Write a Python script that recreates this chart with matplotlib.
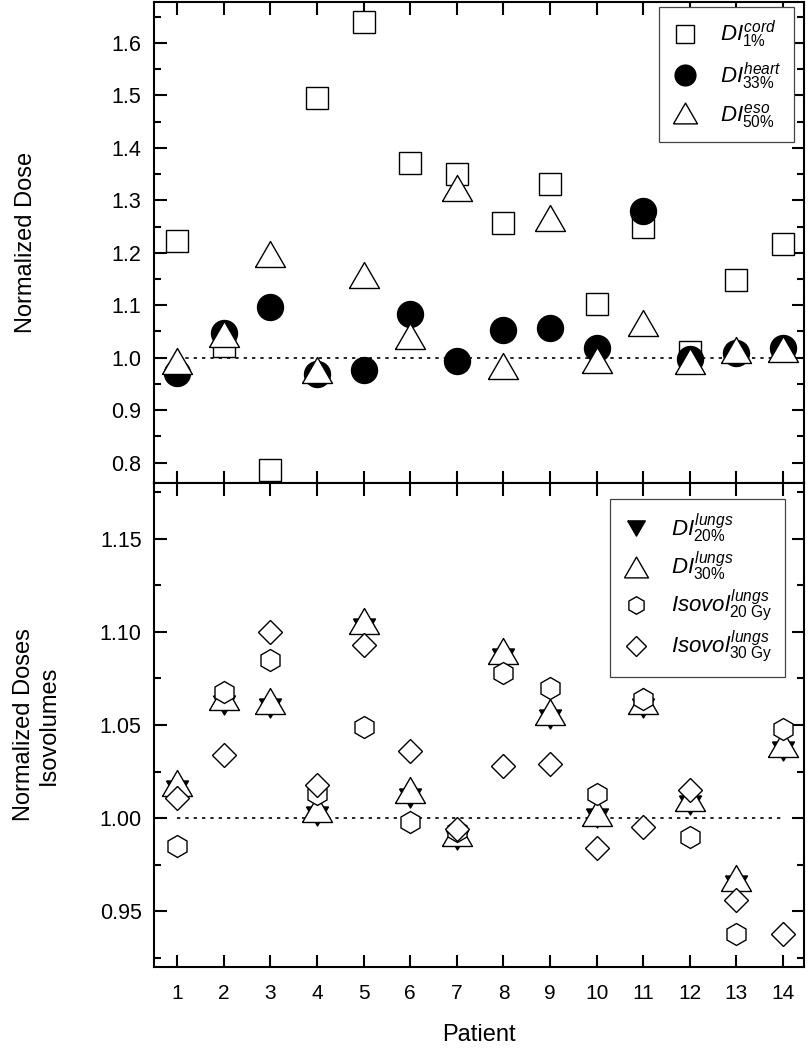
import matplotlib
matplotlib.use("Agg")
import matplotlib.pyplot as plt
from matplotlib.ticker import MultipleLocator

plt.rcParams['font.family'] = ['Liberation Sans', 'DejaVu Sans']
plt.rcParams['mathtext.fontset'] = 'custom'
plt.rcParams['mathtext.it'] = 'Liberation Sans:italic'
plt.rcParams['mathtext.rm'] = 'Liberation Sans'

# Data
patients = list(range(1, 15))

# top panel: normalized dose indices
di_cord_1 = [1.222, 1.022, 0.785, 1.495, 1.640, 1.371, 1.350,
             1.257, 1.332, 1.103, 1.249, 1.010, 1.149, 1.217]
di_heart_33 = [0.970, 1.047, 1.096, 0.968, 0.976, 1.083, 0.993,
               1.053, 1.057, 1.019, 1.279, 0.998, 1.009, 1.019]
di_eso_50 = [0.993, 1.045, 1.197, 0.977, 1.158, 1.042, 1.323,
             0.985, 1.266, 0.995, 1.067, 0.994, 1.015, 1.016]

# bottom panel: lung dose indices and isovolumes
di_lungs_20 = [1.015, 1.061, 1.059, 1.001, 1.102, 1.011, 0.988,
               1.086, 1.053, 1.000, 1.059, 1.007, 0.964, 1.036]
di_lungs_30 = [1.019, 1.065, 1.063, 1.005, 1.106, 1.015, 0.992,
               1.090, 1.057, 1.003, 1.063, 1.011, 0.968, 1.040]
isovol_20gy = [0.985, 1.068, 1.085, 1.013, 1.049, 0.998, 0.993,
               1.078, 1.070, 1.013, 1.064, 0.990, 0.938, 1.048]
isovol_30gy = [1.011, 1.034, 1.100, 1.018, 1.093, 1.036, 0.994,
               1.028, 1.029, 0.984, 0.995, 1.015, 0.956, 0.938]

ref_level = 1.0

tri_up = [(-1, -0.866), (1, -0.866), (0, 0.866), (-1, -0.866)]
tri_down = [(-1, 0.866), (1, 0.866), (0, -0.866), (-1, 0.866)]

fig = plt.figure(figsize=(8.08, 10.5), dpi=100)
ax1 = fig.add_axes([0.1906, 0.540, 0.8045, 0.458])
ax2 = fig.add_axes([0.1906, 0.079, 0.8045, 0.461])

open_kw = dict(ls='none', mfc='white', mec='black', mew=1.0)

# top panel
ax1.plot(patients, di_cord_1, marker='s', ms=15.8, label=r'$DI^{cord}_{1\%}$',
         clip_on=False, **open_kw)
ax1.plot(patients, di_heart_33, marker='o', ms=18.7, ls='none', mfc='black',
         mec='black', label=r'$DI^{heart}_{33\%}$')
ax1.plot(patients, di_eso_50, marker=tri_up, ms=21.6, label=r'$DI^{eso}_{50\%}$',
         **open_kw)
ax1.plot([patients[0], patients[-1]], [ref_level, ref_level], color='black',
         ls=(0, (2, 3)), lw=1.2, zorder=1)

# bottom panel
ax2.plot(patients, di_lungs_20, marker=tri_down, ms=15.8, ls='none', mfc='black',
         mec='black', label=r'$DI^{lungs}_{20\%}$')
ax2.plot(patients, di_lungs_30, marker=tri_up, ms=21.6,
         label=r'$DI^{lungs}_{30\%}$', **open_kw)
ax2.plot(patients, isovol_20gy, marker='h', ms=15.8,
         label=r'$Isovol^{lungs}_{\mathrm{20\ Gy}}$', **open_kw)
ax2.plot(patients, isovol_30gy, marker='D', ms=12.7,
         label=r'$Isovol^{lungs}_{\mathrm{30\ Gy}}$', **open_kw)
ax2.plot([patients[0], patients[-1]], [ref_level, ref_level], color='black',
         ls=(0, (2, 3)), lw=1.2, zorder=1)

ax1.set_ylim(0.761, 1.678)
ax1.yaxis.set_major_locator(MultipleLocator(0.1))
ax1.yaxis.set_minor_locator(MultipleLocator(0.05))
ax1.set_ylabel('Normalized Dose', fontsize=17)
ax1.tick_params(axis='x', labelbottom=False)

ax2.set_ylim(0.92, 1.18)
ax2.yaxis.set_major_locator(MultipleLocator(0.05))
ax2.yaxis.set_minor_locator(MultipleLocator(0.025))
ax2.yaxis.set_major_formatter(plt.FormatStrFormatter('%.2f'))
ax2.set_ylabel('Normalized Doses\nIsovolumes', fontsize=17, linespacing=1.15)
ax2.set_xlabel('Patient', fontsize=17, labelpad=15)

for ax in (ax1, ax2):
    ax.set_xlim(0.5, 14.45)
    ax.set_xticks(patients)
    ax.tick_params(which='both', direction='in', top=True, right=True,
                   width=1.5)
    ax.tick_params(which='major', length=9)
    ax.tick_params(which='minor', length=5)
    ax.tick_params(axis='y', labelsize=15.5, pad=9)
    ax.tick_params(axis='x', labelsize=15, pad=12)
    for sp in ax.spines.values():
        sp.set_linewidth(1.5)

ax1.yaxis.set_label_coords(-0.18, 0.5)
ax2.yaxis.set_label_coords(-0.145, 0.5)

leg_kw = dict(fontsize=16, frameon=True, fancybox=False, framealpha=1,
              edgecolor='#444444', markerscale=0.8, handlelength=1.2,
              handletextpad=1.0, borderpad=0.55, borderaxespad=0)
l1 = ax1.legend(loc='upper right', bbox_to_anchor=(0.985, 0.99),
                labelspacing=0.45, **leg_kw)
l2 = ax2.legend(loc='upper right', bbox_to_anchor=(0.971, 0.967),
                labelspacing=0.22, **leg_kw)
for lg in (l1, l2):
    lg.get_frame().set_linewidth(0.9)

fig.savefig('out.png', dpi=100)
